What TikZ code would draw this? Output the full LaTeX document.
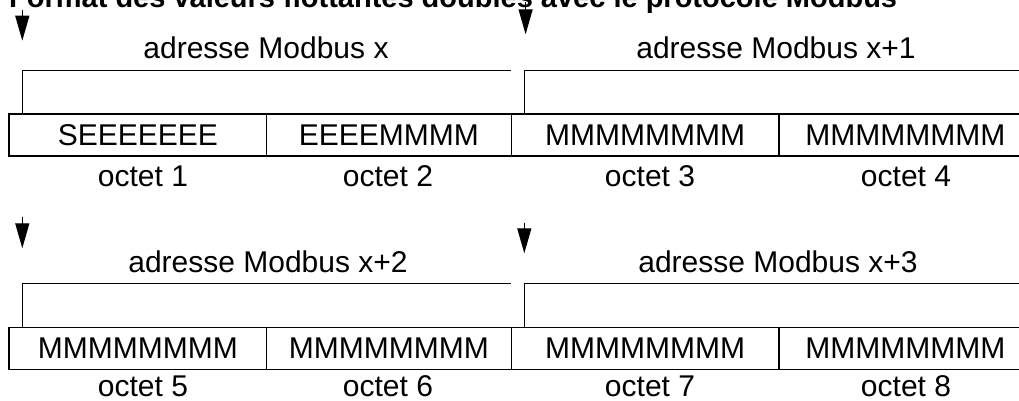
\documentclass[tikz,border=0pt]{standalone}
\usepackage{fontspec}
\setmainfont{Liberation Sans}
\usetikzlibrary{arrows.meta}
\begin{document}
\begin{tikzpicture}[x=1pt,y=-1pt,
  txt/.style={font=\fontsize{30}{35}\selectfont, inner sep=0pt},
  cell/.style={txt, draw, line width=1.3pt, minimum height=42pt, anchor=north west},
  lbl/.style={txt, anchor=base},
  bracket/.style={line width=1.3pt},
  marker/.style={line width=1.3pt, -{Triangle[length=25pt,width=14pt]}}]
\useasboundingbox (0,0) rectangle (1019,401);
\clip (0,0) rectangle (1019,401);
% title (clipped at the top, as in the reference)
\node[font=\bfseries\fontsize{29}{34}\selectfont, inner sep=0pt, anchor=base west] (title) at (9,8)
  {Format des valeurs flottantes doubles avec le protocole Modbus};
% ---------- row 1 ----------
\coordinate (a1t) at (22.3,10); \coordinate (a1h) at (22.3,40.7);
\coordinate (a2t) at (525.6,2); \coordinate (a2h) at (525.6,34.3);
\draw[marker] (a1t) -- (a1h);
\draw[marker] (a2t) -- (a2h);
\node[lbl] (m1) at (266,58.5) {adresse Modbus x};
\node[lbl] (m2) at (776,59) {adresse Modbus x+1};
\coordinate (b1s) at (22.3,113.3); \coordinate (b1e) at (510.7,70.5);
\coordinate (b2s) at (524.3,113.3); \coordinate (b2e) at (1040,70.5);
\draw[bracket] (b1s) |- (b1e);
\draw[bracket] (b2s) |- (b2e);
\node[cell, minimum width=257.7pt] (c1) at (8.3,113.3) {SEEEEEEE};
\node[cell, minimum width=244.5pt] (c2) at (266,113.3) {EEEEMMMM};
\node[cell, minimum width=267.9pt] (c3) at (510.5,113.3) {MMMMMMMM};
\node[cell, minimum width=252.6pt] (c4) at (778.4,113.3) {MMMMMMMM};
\node[lbl] (o1) at (143,186) {octet 1};
\node[lbl] (o2) at (388,186) {octet 2};
\node[lbl] (o3) at (650,186) {octet 3};
\node[lbl] (o4) at (906,186) {octet 4};
% ---------- row 2 ----------
\coordinate (a3t) at (22.3,216.7); \coordinate (a3h) at (22.3,248.3);
\coordinate (a4t) at (524.3,222.7); \coordinate (a4h) at (524.3,253.3);
\draw[marker] (a3t) -- (a3h);
\draw[marker] (a4t) -- (a4h);
\node[lbl] (m3) at (268,272) {adresse Modbus x+2};
\node[lbl] (m4) at (778,272) {adresse Modbus x+3};
\coordinate (b3s) at (22.3,326.7); \coordinate (b3e) at (510.7,283.3);
\coordinate (b4s) at (524.3,326.7); \coordinate (b4e) at (1040,283.3);
\draw[bracket] (b3s) |- (b3e);
\draw[bracket] (b4s) |- (b4e);
\node[cell, minimum width=257.7pt] (c5) at (8.3,326.7) {MMMMMMMM};
\node[cell, minimum width=244.5pt] (c6) at (266,326.7) {MMMMMMMM};
\node[cell, minimum width=267.9pt] (c7) at (510.5,326.7) {MMMMMMMM};
\node[cell, minimum width=252.6pt] (c8) at (778.4,326.7) {MMMMMMMM};
\node[lbl] (o5) at (143,396) {octet 5};
\node[lbl] (o6) at (388,396) {octet 6};
\node[lbl] (o7) at (650,396) {octet 7};
\node[lbl] (o8) at (906,396) {octet 8};
\end{tikzpicture}
\end{document}
